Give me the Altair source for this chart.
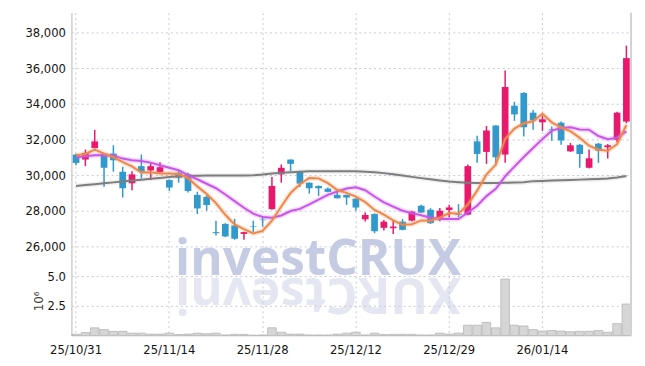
import altair as alt
import pandas as pd

dates = ["25/10/31", "25/11/03", "25/11/04", "25/11/05", "25/11/06", "25/11/07", "25/11/10", "25/11/11",
         "25/11/12", "25/11/13", "25/11/14", "25/11/17", "25/11/18", "25/11/19", "25/11/20", "25/11/21",
         "25/11/24", "25/11/25", "25/11/26", "25/11/27", "25/11/28", "25/12/01", "25/12/02", "25/12/03",
         "25/12/04", "25/12/05", "25/12/08", "25/12/09", "25/12/10", "25/12/11", "25/12/12", "25/12/15",
         "25/12/16", "25/12/17", "25/12/18", "25/12/19", "25/12/22", "25/12/23", "25/12/24", "25/12/26",
         "25/12/29", "25/12/30", "26/01/02", "26/01/05", "26/01/06", "26/01/07", "26/01/08", "26/01/09",
         "26/01/12", "26/01/13", "26/01/14", "26/01/15", "26/01/16", "26/01/19", "26/01/20", "26/01/21",
         "26/01/22", "26/01/23", "26/01/26", "26/01/27"]

opens = [31150, 30870, 31520, 31200, 31200, 30185, 29540, 30500, 30260, 30170,
         29720, 30130, 30040, 28890, 28780, 26800, 27260, 27170, 26700, 27130,
         27500, 28090, 30040, 30870, 30220, 29575, 29390, 29240, 28890, 28890,
         28680, 27520, 27815, 27040, 27020, 27390, 27445, 28280, 28055, 27590,
         28040, 27800, 27780, 31890, 31300, 32780, 31150, 33890, 34610, 33500,
         32960, 32560, 32940, 31330, 31700, 30410, 31760, 31560, 31980, 33000]
highs = [31200, 31430, 32540, 31240, 31670, 30460, 30220, 31150, 30720, 30720,
         29760, 30220, 30130, 29070, 28890, 27440, 27300, 27540, 26820, 27440,
         27670, 29890, 30590, 30880, 30240, 29590, 29420, 29300, 29150, 28900,
         28700, 27900, 27850, 27480, 27440, 27540, 28000, 28330, 28150, 28150,
         28330, 28370, 30590, 32200, 32760, 32800, 35870, 34110, 34650, 33650,
         33350, 32720, 33000, 31800, 31740, 31430, 31800, 31740, 33550, 37260]
lows = [30550, 30500, 31480, 29350, 30190, 28740, 29150, 29815, 29720, 30130,
        29110, 29575, 29020, 27815, 28000, 26610, 26520, 26370, 26370, 26800,
        27110, 28050, 29575, 30220, 29330, 28960, 28830, 29040, 28680, 28330,
        28000, 27390, 26740, 26890, 26700, 26900, 27390, 27870, 27260, 27410,
        27630, 27630, 27750, 30685, 30630, 30555, 30685, 33040, 32170, 32540,
        32480, 31930, 31700, 31300, 30410, 30370, 30685, 30930, 31830, 32900]
closes = [30680, 31240, 31890, 30410, 30830, 29260, 30040, 30185, 30500, 30440,
          29300, 29850, 29110, 28130, 28320, 26740, 26560, 26430, 26800, 27100,
          27470, 29390, 30410, 30630, 29520, 29260, 29260, 29060, 28700, 28740,
          28180, 27760, 26850, 27390, 27110, 26930, 27945, 27900, 27300, 28000,
          28185, 27760, 30500, 31185, 32500, 31000, 34940, 33400, 32680, 33060,
          33130, 32520, 31940, 31670, 31180, 30940, 31370, 31670, 33500, 36560]
# volume in millions of shares
volumes = [0.10, 0.25, 0.65, 0.50, 0.35, 0.35, 0.20, 0.20, 0.12, 0.12,
           0.20, 0.08, 0.12, 0.20, 0.15, 0.20, 0.05, 0.10, 0.10, 0.03,
           0.05, 0.65, 0.28, 0.12, 0.12, 0.05, 0.05, 0.05, 0.12, 0.20,
           0.28, 0.05, 0.20, 0.08, 0.10, 0.10, 0.10, 0.05, 0.05, 0.20,
           0.12, 0.20, 0.87, 0.87, 1.10, 0.65, 4.75, 0.87, 0.80, 0.50,
           0.38, 0.42, 0.38, 0.32, 0.35, 0.35, 0.42, 0.28, 1.00, 2.65]
ma5 = [31110, 31185, 31430, 31200, 31010, 30726, 30486, 30145, 30163, 30085,
       30093, 30055, 29840, 29366, 28942, 28430, 27772, 27236, 26970, 26726,
       26872, 27438, 28234, 29000, 29484, 29842, 29816, 29546, 29160, 29004,
       28788, 28488, 28046, 27784, 27458, 27208, 27245, 27455, 27437, 27615,
       27866, 27829, 28349, 29126, 30026, 30589, 32025, 32605, 32904, 33016,
       33442, 32958, 32666, 32464, 32088, 31650, 31420, 31366, 31732, 32808]
ma10 = [31000, 31055, 31110, 31110, 31090, 30925, 30830, 30790, 30700, 30548,
        30410, 30271, 29993, 29765, 29514, 29262, 28914, 28538, 28168, 27834,
        27651, 27605, 27735, 27985, 28105, 28357, 28627, 28890, 29080, 29244,
        29315, 29152, 28796, 28472, 28231, 27998, 27867, 27751, 27611, 27537,
        27537, 27537, 27902, 28282, 28821, 29228, 29927, 30477, 31015, 31521,
        32016, 32492, 32636, 32684, 32552, 32546, 32189, 32016, 32098, 32448]
ma_long = [29390, 29440, 29490, 29540, 29590, 29640, 29690, 29740, 29790, 29840,
           29890, 29930, 29950, 29960, 29970, 29970, 29970, 29970, 29975, 29990,
           30030, 30090, 30130, 30160, 30190, 30210, 30220, 30220, 30220, 30220,
           30210, 30190, 30160, 30110, 30050, 29980, 29900, 29830, 29760, 29700,
           29640, 29600, 29570, 29550, 29550, 29560, 29570, 29580, 29600, 29660,
           29670, 29690, 29710, 29730, 29745, 29760, 29780, 29810, 29860, 29945]

tick_dates = ["25/10/31", "25/11/14", "25/11/28", "25/12/12", "25/12/29", "26/01/14"]
price_ticks = [26000, 28000, 30000, 32000, 34000, 36000, 38000]
vol_ticks = [2.5, 5.0]
watermark = "investCRUX"

df = pd.DataFrame({"date": dates, "open": opens, "high": highs, "low": lows,
                   "close": closes, "vol": volumes, "ma5": ma5, "ma10": ma10, "malong": ma_long})
df["dir"] = ["up" if c >= o else "down" for o, c in zip(opens, closes)]

FONT = "DejaVu Sans Condensed, Liberation Sans Narrow, Roboto, sans-serif"
UP, DOWN = "#e8196c", "#3199cc"
W, HP, HV = 565, 256, 70
GRID = dict(grid=True, gridColor="#c6c8da", gridDash=[2, 3], gridWidth=1)

xscale = alt.Scale(domain=dates, paddingInner=0, paddingOuter=0)
x_price = alt.X("date:O", scale=xscale,
                axis=alt.Axis(values=tick_dates, labels=False, ticks=False, domain=False,
                              title=None, bandPosition=0.5, **GRID))
yscale = alt.Scale(domain=[24889, 39111], nice=False, zero=False)
color = alt.Color("dir:N", scale=alt.Scale(domain=["up", "down"], range=[UP, DOWN]), legend=None)

base = alt.Chart(df)
wm_df = pd.DataFrame({"t": [watermark], "r": [watermark[::-1]]})

mark_wm = alt.Chart(wm_df).mark_text(font="Open Sans", fontWeight="bold", fontSize=50,
                                     color="#c5cbe3", align="center", baseline="alphabetic").encode(
    text="t:N", x=alt.value(249), y=alt.value(265))
mark_wm_ref = alt.Chart(wm_df).mark_text(font="Open Sans", fontWeight="bold", fontSize=50,
                                         color="#c5cbe3", opacity=0.45, angle=180, align="center",
                                         baseline="alphabetic").encode(
    text="r:N", x=alt.value(249), y=alt.value(268))

wicks = base.mark_rule(strokeWidth=1.5).encode(
    x=x_price,
    y=alt.Y("low:Q", scale=yscale,
            axis=alt.Axis(values=price_ticks, format=",.0f", title=None, ticks=False, labelPadding=6,
                          domain=True, domainColor="#cfcfcf", domainWidth=1.5, **GRID)),
    y2="high:Q", color=color)
bodies = base.mark_bar(width=alt.RelativeBandSize(0.72)).encode(
    x=x_price, y=alt.Y("open:Q", scale=yscale), y2="close:Q", color=color)


def ma_line(field, col, halo_op):
    halo = base.mark_line(color=col, strokeWidth=5, opacity=halo_op).encode(
        x=x_price, y=alt.Y(f"{field}:Q", scale=yscale))
    main = base.mark_line(color=col, strokeWidth=2).encode(
        x=x_price, y=alt.Y(f"{field}:Q", scale=yscale))
    return [halo, main]


lines = (ma_line("malong", "#7d7d7d", 0.12) + ma_line("ma10", "#c955ea", 0.22)
         + ma_line("ma5", "#f0874a", 0.22))
border_p = alt.Chart(wm_df).mark_rule(color="#d2d2d2", strokeWidth=2).encode(
    x=alt.value(W), y=alt.value(0), y2=alt.value(HP))

price = alt.layer(mark_wm, mark_wm_ref, wicks, bodies, *lines, border_p).properties(
    width=W, height=HP)

x_vol = alt.X("date:O", scale=xscale,
              axis=alt.Axis(values=tick_dates, labelAngle=0, title=None, ticks=False, domain=True,
                            domainColor="#dddddd", labelPadding=8, bandPosition=0.5, **GRID))
vbars = base.mark_bar(width=alt.RelativeBandSize(0.92), fill="#d6d6d6", stroke="#b5b5b5",
                      strokeWidth=0.8).encode(
    x=x_vol,
    y=alt.Y("vol:Q", scale=alt.Scale(domain=[0, 5.83], nice=False),
            axis=alt.Axis(values=vol_ticks, format=".1f", title="10⁶", ticks=False, labelPadding=6,
                          titleFont="DejaVu Sans", titleFontWeight="normal", titleFontSize=12,
                          titleColor="#444", titlePadding=2,
                          domain=True, domainColor="#cfcfcf", domainWidth=1.5, **GRID)))
border_v = alt.Chart(wm_df).mark_rule(color="#d2d2d2", strokeWidth=2).encode(
    x=alt.value(W), y=alt.value(0), y2=alt.value(HV))
volume = alt.layer(vbars, border_v).properties(width=W, height=HV)

chart = alt.vconcat(price, volume, spacing=0, bounds="flush").properties(
    padding={"left": 17, "top": 2, "right": 0, "bottom": 0}, background="white"
).configure_view(stroke=None).configure_axis(
    labelFont=FONT, labelFontSize=13, labelColor="#151515")

chart.save("out.html", embed_options={"renderer": "svg", "actions": False})
